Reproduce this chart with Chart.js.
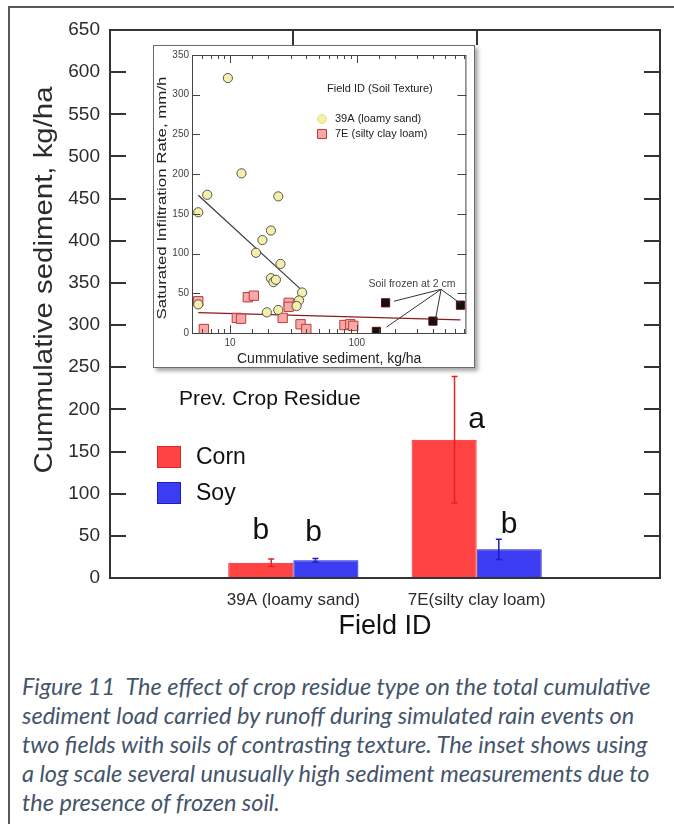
<!DOCTYPE html>
<html>
<head>
<meta charset="utf-8">
<title>Figure 11 - cumulative sediment</title>
<script src="https://cdn.jsdelivr.net/npm/chart.js@4.4.1/dist/chart.umd.min.js"></script>
<style>
  html, body { margin: 0; padding: 0; background: #fff; }
  body { width: 674px; height: 824px; position: relative; overflow: hidden; }
  #frame { position: absolute; left: 8px; top: 6px; width: 720px; height: 900px;
           border-left: 2px solid #595959; border-top: 2px solid #595959; }
  #mainChart { position: absolute; left: 0; top: 0; }
  #insetBox { position: absolute; left: 153px; top: 45px; width: 322px; height: 323px;
              box-sizing: border-box; border: 1px solid #6b6b6b; background: #fff;
              box-shadow: 3px 3px 4px rgba(0,0,0,0.35); }
  #insetChart { display: block; }
  #caption { position: absolute; left: 22px; top: 672px; color: #44546a;
             font-family: Lato, 'Open Sans', sans-serif; font-style: italic;
             line-height: 29px; white-space: pre; }
</style>
</head>
<body>
<div id="frame"></div>
<canvas id="mainChart" width="674" height="640"></canvas>
<div id="insetBox"><canvas id="insetChart" width="320" height="321"></canvas></div>
<div id="caption"></div>
<script>
// ---- main bar chart data ----
const fieldLabels = ['', '39A (loamy sand)', '7E(silty clay loam)', ''];
const residueNames = ['Corn', 'Soy'];
const cornSediment = [null, 18, 164, null];
const soySediment = [null, 21, 34, null];
const cornError = [null, 4.5, 75, null];
const soyError = [null, 2, 12, null];
const cornLetters = [null, 'b', 'a', null];
const soyLetters = [null, 'b', 'b', null];
const cornLetterAt = [null, 59, 187, null];
const soyLetterAt = [null, 57, 66, null];

// ---- inset scatter data (log x) ----
const loamySandX = [5.6, 6.6, 9.6, 12.3, 24, 21, 18, 16, 25, 21, 22, 23, 37, 35, 33.5, 24, 19.5, 5.6];
const loamySandY = [152, 174, 321, 201, 172, 129, 117, 101, 87, 69, 64, 67, 51, 41, 34, 29, 26, 36];
const siltyClayX = [5.6, 6.2, 11.3, 12.2, 13.8, 15.4, 26, 29, 29, 36, 40, 80, 89, 94];
const siltyClayY = [40, 5, 19, 18, 45, 47, 19, 38, 33, 11, 5, 10, 11, 9];
const frozenX = [143, 169, 400, 660];
const frozenY = [2, 38, 15, 35];
const sandTrendX = [5.6, 37.3];
const sandTrendY = [173.5, 53];
const clayTrendX = [5.6, 660];
const clayTrendY = [25.7, 16.6];
const insetXLabels = [10, 100];
const frozenNote = { x: 273, y: 62, text: 'Soil frozen at 2 cm' };
const frozenPointerFrom = [464, 55];
const frozenPointerTo = [[197, 40], [172, 7.5], [418, 16.6], [661, 37]];

const captionLines = [
  'Figure 11  The effect of crop residue type on the total cumulative',
  'sediment load carried by runoff during simulated rain events on',
  'two fields with soils of contrasting texture. The inset shows using',
  'a log scale several unusually high sediment measurements due to',
  'the presence of frozen soil.'
];

const FONT = "'Liberation Sans', Arial, sans-serif";
const INK = '#2b2b2b';
const cornFill = '#ff4242', cornLine = '#e02525';
const soyFill = '#3c3cf2', soyLine = '#1c1cc8';

// y title stretched along its length, like the scanned figure
function drawRotatedTitle(ctx, text, cx, cy, size, stretch, color) {
  ctx.save();
  ctx.translate(cx, cy);
  ctx.rotate(-Math.PI / 2);
  ctx.scale(stretch, 1);
  ctx.font = size + 'px ' + FONT;
  ctx.fillStyle = color;
  ctx.textAlign = 'center';
  ctx.textBaseline = 'middle';
  ctx.fillText(text, 0, 0);
  ctx.restore();
}

const mainDecor = {
  id: 'mainDecor',
  afterDraw(chart) {
    const { ctx, chartArea: a, scales: { x, y } } = chart;
    ctx.save();
    ctx.strokeStyle = '#333';
    ctx.lineWidth = 2;
    ctx.strokeRect(a.left, a.top, a.right - a.left, a.bottom - a.top);
    ctx.beginPath();
    y.ticks.forEach(t => {
      if (t.value <= y.min || t.value >= y.max) return;
      const py = Math.round(y.getPixelForValue(t.value));
      ctx.moveTo(a.left, py); ctx.lineTo(a.left + 16, py);
      ctx.moveTo(a.right, py); ctx.lineTo(a.right - 16, py);
    });
    [1, 2].forEach(i => {
      const px = Math.round(x.getPixelForValue(i));
      ctx.moveTo(px, a.top); ctx.lineTo(px, a.top + 15);
    });
    ctx.stroke();

    drawRotatedTitle(ctx, 'Cummulative sediment, kg/ha', 45, 280, 26, 1.13, INK);

    // legend
    ctx.fillStyle = '#111';
    ctx.textBaseline = 'middle';
    ctx.textAlign = 'left';
    ctx.font = '21px ' + FONT;
    ctx.fillText('Prev. Crop Residue', 179, 399);
    ctx.font = '23px ' + FONT;
    chart.data.datasets.forEach((ds, i) => {
      const top = 446 + i * 36;
      ctx.fillStyle = ds.backgroundColor;
      ctx.fillRect(157, top, 24, 22);
      ctx.strokeStyle = ds.borderColor;
      ctx.lineWidth = 1;
      ctx.strokeRect(157.5, top + 0.5, 23, 21);
      ctx.fillStyle = '#111';
      ctx.fillText(ds.label, 196, top + 12);
    });
    ctx.restore();
  },
  afterDatasetsDraw(chart) {
    const { ctx, scales: { y } } = chart;
    const errs = [cornError, soyError];
    const letters = [cornLetters, soyLetters];
    const letterAt = [cornLetterAt, soyLetterAt];
    const letterShift = [[0, 0, 0.5, 0], [0, -0.19, 0, 0]];
    ctx.save();
    chart.data.datasets.forEach((ds, i) => {
      chart.getDatasetMeta(i).data.forEach((bar, j) => {
        const v = ds.data[j], e = errs[i][j];
        if (v == null) return;
        const px = bar.x + (i === 0 ? 1 : -1) * bar.width * 0.16;
        const top = y.getPixelForValue(v + e), bot = y.getPixelForValue(v - e);
        ctx.strokeStyle = ds.borderColor;
        ctx.lineWidth = 1.5;
        ctx.beginPath();
        ctx.moveTo(px, top); ctx.lineTo(px, bot);
        ctx.moveTo(px - 3, top); ctx.lineTo(px + 3, top);
        ctx.moveTo(px - 3, bot); ctx.lineTo(px + 3, bot);
        ctx.stroke();
        ctx.fillStyle = '#111';
        ctx.font = '30px ' + FONT;
        ctx.textAlign = 'center';
        ctx.textBaseline = 'alphabetic';
        const ly = y.getPixelForValue(letterAt[i][j]);
        const lx = bar.x + letterShift[i][j] * bar.width;
        ctx.fillText(letters[i][j], lx, ly + (letters[i][j] === 'a' ? 8 : 11));
      });
    });
    ctx.restore();
  }
};

new Chart(document.getElementById('mainChart'), {
  type: 'bar',
  data: {
    labels: fieldLabels,
    datasets: [
      { label: residueNames[0], data: cornSediment, backgroundColor: cornFill, borderColor: cornLine, borderWidth: 1 },
      { label: residueNames[1], data: soySediment, backgroundColor: soyFill, borderColor: soyLine, borderWidth: 1 }
    ]
  },
  options: {
    responsive: false,
    animation: false,
    devicePixelRatio: 1,
    categoryPercentage: 0.71,
    barPercentage: 1,
    layout: { padding: { top: 30, right: 14, left: 0, bottom: 0 } },
    plugins: { legend: { display: false }, tooltip: { enabled: false } },
    scales: {
      x: {
        offset: false,
        grid: { display: false, drawTicks: false },
        border: { display: false },
        ticks: { autoSkip: false, maxRotation: 0, padding: 12, color: INK, font: { size: 17, family: FONT } },
        title: { display: true, text: 'Field ID', color: '#111', font: { size: 27, family: FONT, lineHeight: 1 }, padding: { top: 0, bottom: 0 } },
        afterFit: s => { s.height = 62; }
      },
      y: {
        min: 0,
        max: 650,
        grid: { display: false, drawTicks: false },
        border: { display: false },
        ticks: { stepSize: 50, padding: 10, color: INK, font: { size: 19, family: FONT } },
        afterFit: s => { s.width = 110; }
      }
    }
  },
  plugins: [mainDecor]
});

// ---- inset ----
const insetDecor = {
  id: 'insetDecor',
  afterDraw(chart) {
    const { ctx, chartArea: a, scales: { x, y } } = chart;
    ctx.save();
    ctx.strokeStyle = '#444';
    ctx.lineWidth = 1;
    ctx.strokeRect(a.left + 0.5, a.top + 0.5, a.right - a.left - 1, a.bottom - a.top);
    ctx.beginPath();
    x.ticks.forEach(t => {
      if (t.value <= x.min || t.value >= x.max) return;
      const px = Math.round(x.getPixelForValue(t.value)) + 0.5;
      const len = insetXLabels.includes(t.value) ? 8 : 4;
      ctx.moveTo(px, a.bottom); ctx.lineTo(px, a.bottom - len);
      ctx.moveTo(px, a.top); ctx.lineTo(px, a.top + len);
    });
    y.ticks.forEach(t => {
      if (t.value <= y.min || t.value >= y.max) return;
      const py = Math.round(y.getPixelForValue(t.value)) + 0.5;
      ctx.moveTo(a.left, py); ctx.lineTo(a.left + 8, py);
      ctx.moveTo(a.right, py); ctx.lineTo(a.right - 9, py);
    });
    ctx.stroke();

    drawRotatedTitle(ctx, 'Saturated Infiltration Rate, mm/h', 9, 152, 12.5, 1.35, '#222');

    // legend
    ctx.fillStyle = '#222';
    ctx.textAlign = 'left';
    ctx.textBaseline = 'middle';
    ctx.font = '11px ' + FONT;
    ctx.fillText('Field ID (Soil Texture)', 173, 43);
    [0, 1].forEach(i => {
      const ds = chart.data.datasets[i];
      const cy = 73 + i * 15;
      ctx.fillStyle = ds.backgroundColor;
      ctx.strokeStyle = i === 0 ? '#e8e080' : ds.borderColor;
      ctx.beginPath();
      if (i === 0) ctx.arc(168, cy, 4.5, 0, Math.PI * 2);
      else ctx.rect(163.5, cy - 4.5, 9, 9);
      ctx.fill(); ctx.stroke();
      ctx.fillStyle = '#222';
      ctx.fillText(ds.label, 181, cy);
    });

    // frozen-soil note with pointers
    const nx = x.getPixelForValue(frozenNote.x), ny = y.getPixelForValue(frozenNote.y);
    ctx.font = '10.5px ' + FONT;
    ctx.fillStyle = '#444';
    ctx.textAlign = 'center';
    ctx.fillText(frozenNote.text, nx, ny);
    ctx.strokeStyle = '#333';
    ctx.beginPath();
    const fx = x.getPixelForValue(frozenPointerFrom[0]), fy = y.getPixelForValue(frozenPointerFrom[1]);
    frozenPointerTo.forEach(p => {
      ctx.moveTo(fx, fy);
      ctx.lineTo(x.getPixelForValue(p[0]), y.getPixelForValue(p[1]));
    });
    ctx.stroke();
    ctx.restore();
  }
};

const toPoints = (xs, ys) => xs.map((v, i) => ({ x: v, y: ys[i] }));

new Chart(document.getElementById('insetChart'), {
  type: 'scatter',
  data: {
    datasets: [
      { label: '39A (loamy sand)', data: toPoints(loamySandX, loamySandY), pointStyle: 'circle', pointRadius: 4.6,
        backgroundColor: '#f4efa9', borderColor: '#555', borderWidth: 1, order: 1 },
      { label: '7E (silty clay loam)', data: toPoints(siltyClayX, siltyClayY), pointStyle: 'rect', pointRadius: 6.6,
        backgroundColor: '#f5a9a9', borderColor: '#c23a3a', borderWidth: 1, order: 1 },
      { label: 'Soil frozen', data: toPoints(frozenX, frozenY), pointStyle: 'rect', pointRadius: 5.8,
        backgroundColor: '#111', borderColor: '#6b0d0d', borderWidth: 1, order: 1 },
      { type: 'line', label: '39A fit', data: toPoints(sandTrendX, sandTrendY), borderColor: '#3a3a3a',
        borderWidth: 1.2, pointRadius: 0, order: 2 },
      { type: 'line', label: '7E fit', data: toPoints(clayTrendX, clayTrendY), borderColor: '#8a1c1c',
        borderWidth: 1.2, pointRadius: 0, order: 2 }
    ]
  },
  options: {
    responsive: false,
    animation: false,
    devicePixelRatio: 1,
    layout: { padding: { top: 7, right: 1, left: 0, bottom: 0 } },
    plugins: { legend: { display: false }, tooltip: { enabled: false } },
    scales: {
      x: {
        type: 'logarithmic',
        min: 5,
        max: 735,
        grid: { display: false, drawTicks: false },
        border: { display: false },
        ticks: { autoSkip: false, maxRotation: 0, padding: 4, color: '#444', font: { size: 10, family: FONT },
                 callback: v => insetXLabels.includes(v) ? String(v) : '' },
        title: { display: true, text: 'Cummulative sediment, kg/ha', color: '#222',
                 font: { size: 14, family: FONT, lineHeight: 1 }, padding: { top: 0, bottom: 1 } },
        afterFit: s => { s.height = 34; }
      },
      y: {
        min: 0,
        max: 350,
        grid: { display: false, drawTicks: false },
        border: { display: false },
        ticks: { stepSize: 50, padding: 3, color: '#444', font: { size: 10, family: FONT } },
        afterFit: s => { s.width = 38; }
      }
    }
  },
  plugins: [insetDecor]
});

// ---- caption ----
const cap = document.getElementById('caption');
const probe = document.createElement('canvas').getContext('2d');
probe.font = "italic 20px Lato";
const capSize = 20 * 630 / probe.measureText(captionLines[0]).width;
cap.style.fontSize = capSize.toFixed(2) + 'px';
cap.textContent = captionLines.join('\n');
</script>
</body>
</html>
